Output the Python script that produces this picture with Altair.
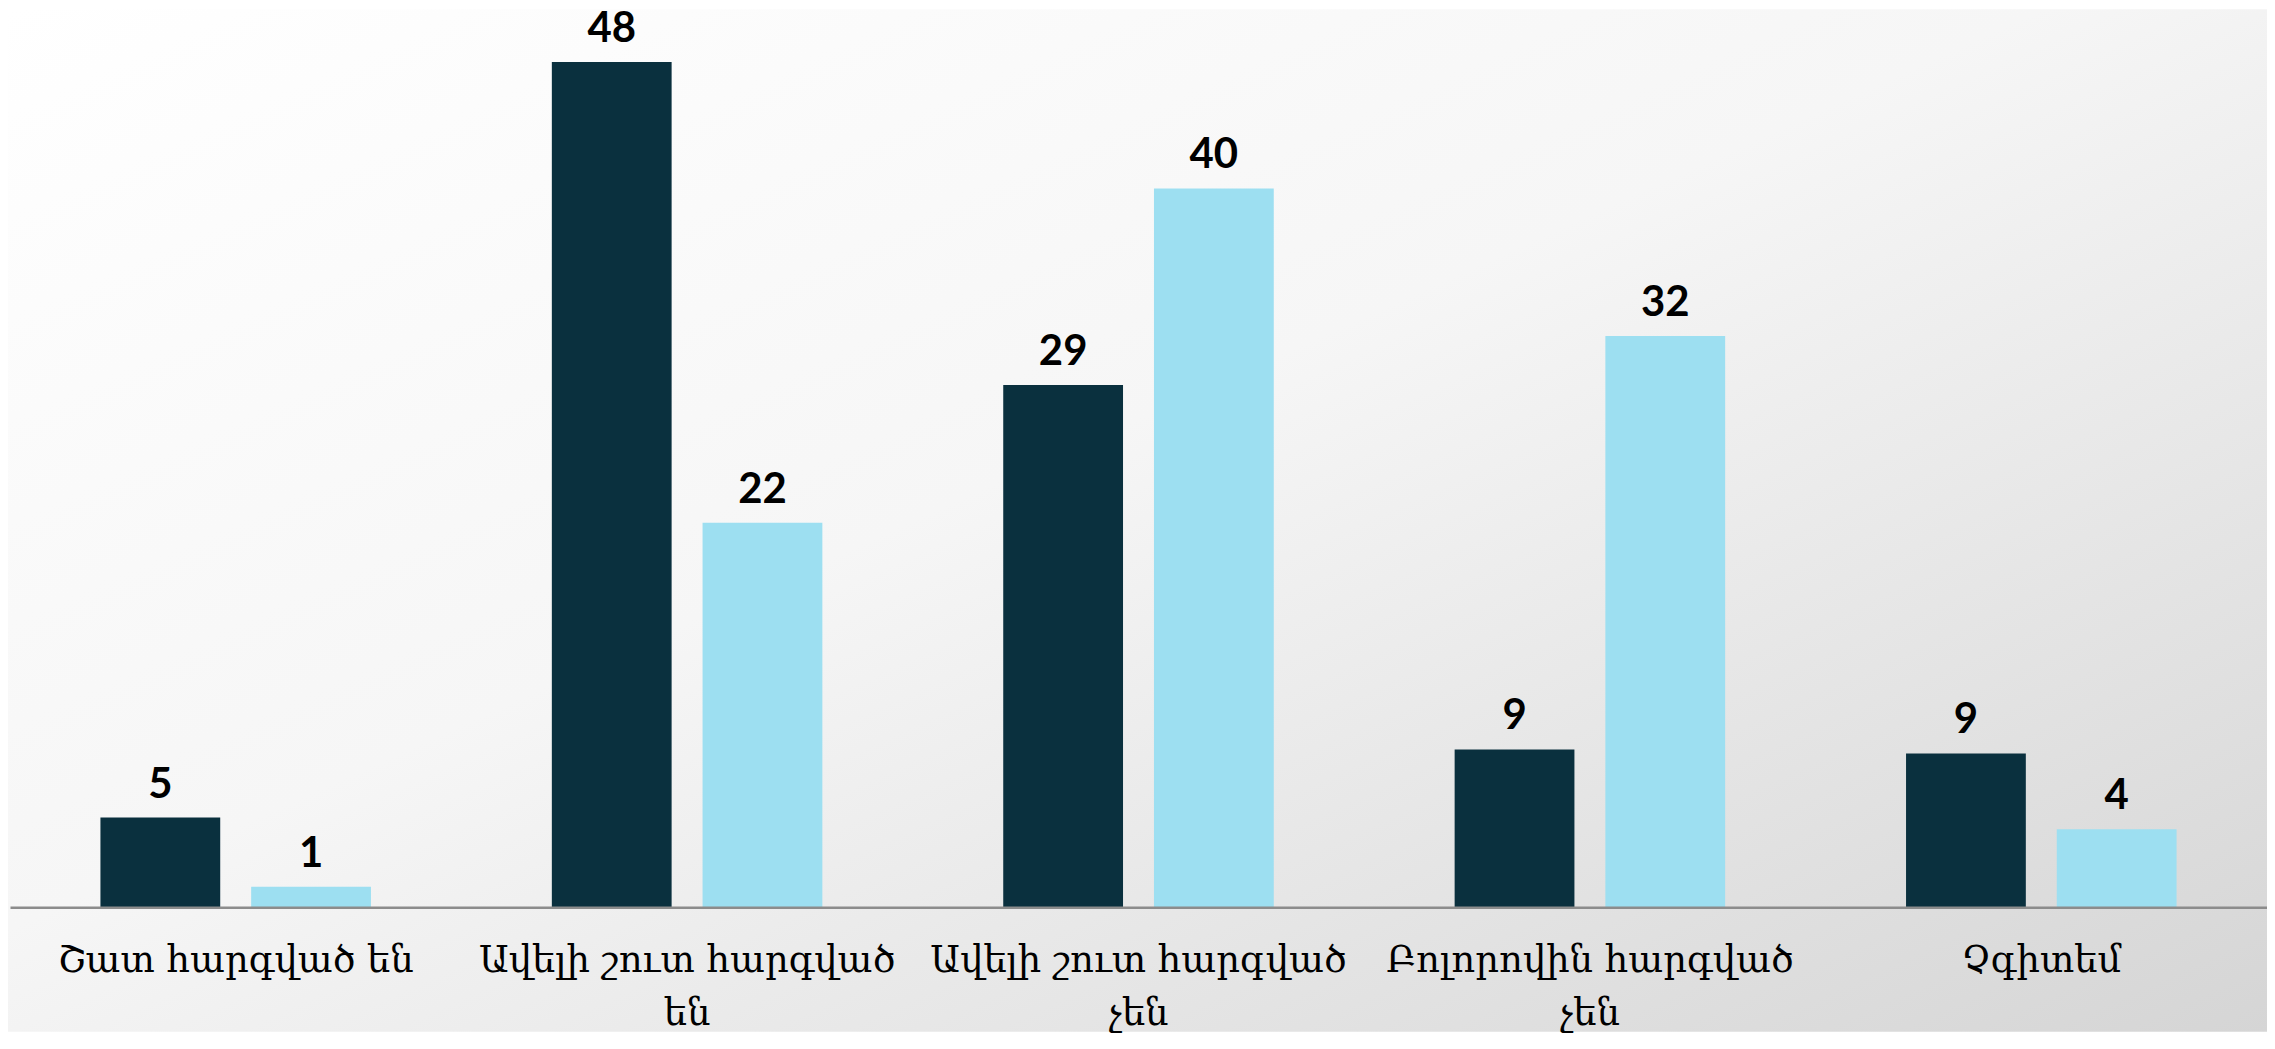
import altair as alt
import pandas as pd

categories = [
    "Շատ հարգված են",
    "Ավելի շուտ հարգված են",
    "Ավելի շուտ հարգված չեն",
    "Բոլորովին հարգված չեն",
    "Չգիտեմ",
]
series_names = ["Շարք 1", "Շարք 2"]
dark_values = [5.09, 48.0, 29.65, 8.96, 8.73]
light_values = [1.16, 21.83, 40.82, 32.44, 4.43]
dark_labels = ["5", "48", "29", "9", "9"]
light_labels = ["1", "22", "40", "32", "4"]
colors = ["#0a303e", "#9ddff1"]

rows = []
for i, c in enumerate(categories):
    rows.append(dict(category=c, series=series_names[0], value=dark_values[i], label=dark_labels[i]))
    rows.append(dict(category=c, series=series_names[1], value=light_values[i], label=light_labels[i]))
df = pd.DataFrame(rows)

W, H = 2262, 892
PT, PB = 8, 125

bg = alt.Chart(pd.DataFrame({"d": [0]})).mark_rect(
    color=alt.Gradient(
        gradient="linear",
        stops=[
            alt.GradientStop(color="#ffffff", offset=0),
            alt.GradientStop(color="#f6f6f6", offset=0.45),
            alt.GradientStop(color="#d5d5d5", offset=1),
        ],
        x1=0, y1=0, x2=1, y2=1,
    )
).encode(x=alt.value(-2), x2=alt.value(W + 2), y=alt.value(-PT), y2=alt.value(H + PB))

label_expr = (
    "length(datum.label) > 16 ? "
    "[substring(datum.label, 0, lastindexof(datum.label, ' ')), "
    "substring(datum.label, lastindexof(datum.label, ' ') + 1)] : datum.label"
)

base = alt.Chart(df).encode(
    x=alt.X(
        "category:N",
        sort=categories,
        scale=alt.Scale(paddingInner=0, paddingOuter=0),
        axis=alt.Axis(
            title=None,
            labelAngle=0,
            ticks=False,
            domainColor="#8c8c8c",
            domainWidth=2.5,
            labelFont="Sylfaen, DejaVu Serif, DejaVu Sans",
            labelFontSize=37,
            labelColor="#000000",
            labelPadding=36,
            labelLimit=0,
            labelLineHeight=53,
            labelBaseline="top",
            labelExpr=label_expr,
            zindex=1,
        ),
    ),
    xOffset=alt.XOffset(
        "series:N",
        sort=series_names,
        scale=alt.Scale(paddingInner=0.2053, paddingOuter=0.6),
    ),
    y=alt.Y("value:Q", scale=alt.Scale(domain=[0, 50.55]), axis=None),
)

bars = base.mark_bar().encode(
    color=alt.Color("series:N", scale=alt.Scale(domain=series_names, range=colors), legend=None)
)

text = base.mark_text(
    dy=-20, baseline="alphabetic", font="Lato", fontWeight="bold", fontSize=42, color="#000000"
).encode(text="label:N")

chart = (
    alt.layer(bg, bars, text)
    .properties(
        width=W,
        height=H,
        autosize=alt.AutoSizeParams(type="none"),
        padding={"left": 2, "top": PT, "right": 0, "bottom": PB},
    )
    .configure_view(stroke=None)
    .configure(background="#ffffff")
)

chart.save("out.html", embed_options={"renderer": "svg", "actions": False})
